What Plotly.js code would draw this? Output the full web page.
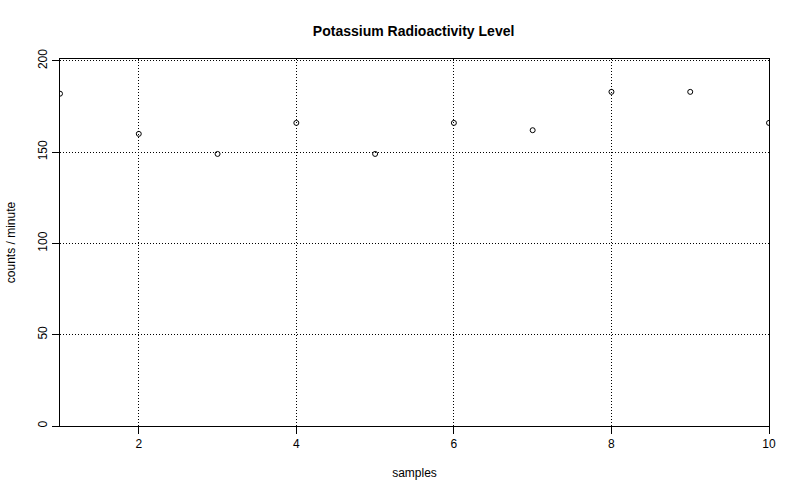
<!DOCTYPE html>
<html>
<head>
<meta charset="utf-8">
<script src="https://cdn.plot.ly/plotly-3.0.1.min.js"></script>
<style>body{margin:0;background:#fff}#chart{width:800px;height:500px}</style>
</head>
<body>
<div id="chart"></div>
<script>
// Potassium radioactivity samples (counts / minute)
const samples = [1, 2, 3, 4, 5, 6, 7, 8, 9, 10];
const counts = [182, 160, 149, 166, 149, 166, 162, 183, 183, 166];

const AXIS = {
    showline: true,
    linecolor: '#000',
    linewidth: 1,
    mirror: true,
    ticks: 'outside',
    ticklen: 7,
    tickcolor: '#000',
    gridcolor: '#000',
    griddash: '1px,2px',
    gridwidth: 1,
    zeroline: false,
    tickfont: { family: 'Liberation Sans, Arial, sans-serif', size: 12, color: '#000' },
};

const trace = {
    x: samples,
    y: counts,
    type: 'scatter',
    mode: 'markers',
    marker: { symbol: 'circle-open', size: 5, color: '#000', line: { width: 1, color: '#000' } },
    hoverinfo: 'x+y',
};

const layout = {
    paper_bgcolor: '#fff',
    plot_bgcolor: '#fff',
    font: { family: 'Liberation Sans, Arial, sans-serif', color: '#000', size: 12 },
    margin: { l: 60, r: 31, t: 59, b: 74 },
    showlegend: false,
    title: {
        text: '<b>Potassium Radioactivity Level</b>',
        font: { size: 14, color: '#000' },
        x: 0.517, xanchor: 'center', y: 0.938, yanchor: 'middle',
    },
    xaxis: {
        ...AXIS,
        range: [1, 10],
        tickvals: [2, 4, 6, 8, 10],
        title: { text: 'samples', font: { size: 12, color: '#000' }, standoff: 18 },
    },
    yaxis: {
        ...AXIS,
        range: [0, 201],
        tickvals: [0, 50, 100, 150, 200],
        tickangle: -90,
        title: { text: 'counts / minute', font: { size: 12, color: '#000' }, standoff: 18 },
    },
};

Plotly.newPlot('chart', [trace], layout, { displayModeBar: false, staticPlot: true });
</script>
</body>
</html>
